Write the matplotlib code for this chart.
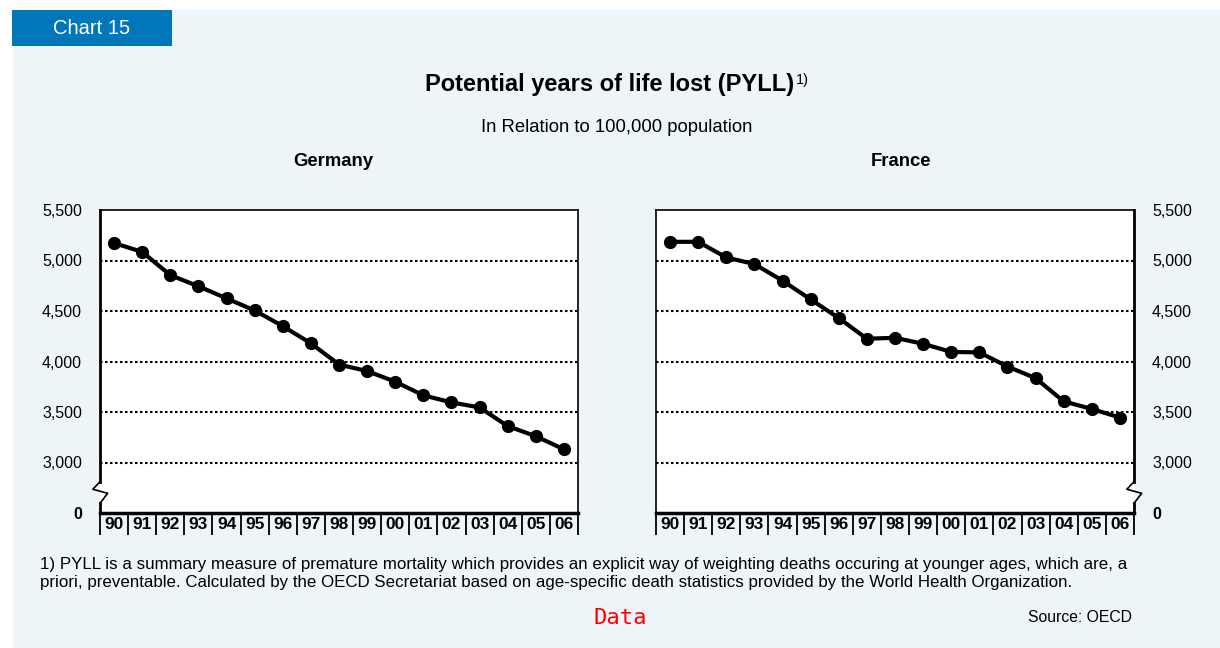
import numpy as np
import matplotlib
matplotlib.use("Agg")
import matplotlib.pyplot as plt
import matplotlib.transforms as mtrans
from matplotlib.patches import Rectangle

plt.rcParams['font.family'] = ['Liberation Sans', 'DejaVu Sans']

# data
years = ['90', '91', '92', '93', '94', '95', '96', '97', '98', '99',
         '00', '01', '02', '03', '04', '05', '06']
germany = [5173, 5085, 4855, 4745, 4625, 4505, 4350, 4180, 3970, 3905,
           3800, 3665, 3595, 3545, 3360, 3260, 3130]
france = [5185, 5185, 5030, 4965, 4800, 4615, 4430, 4225, 4235, 4175,
          4095, 4090, 3950, 3835, 3605, 3530, 3445]
ytick_vals = [3000, 3500, 4000, 4500, 5000, 5500]
ytick_labels = ['3,000', '3,500', '4,000', '4,500', '5,000', '5,500']

W, H = 1220, 648
fig = plt.figure(figsize=(W / 100, H / 100), dpi=100)
fig.patch.set_facecolor('white')

# light panel + header box
fig.patches.append(Rectangle((13 / W, 0), 1 - 13 / W, 1 - 10 / H, transform=fig.transFigure,
                             facecolor='#edf5f9', edgecolor='none', zorder=-2))
fig.patches.append(Rectangle((12 / W, 1 - 46 / H), 160 / W, 36 / H, transform=fig.transFigure,
                             facecolor='#0077bb', edgecolor='none', zorder=-1))
fig.text(92 / W, 1 - 29 / H, 'Chart 15', color='white', fontsize=14.5, ha='center', va='center')

fig.text(610 / W, 1 - 85 / H, 'Potential years of life lost (PYLL)', fontsize=17,
         fontweight='bold', ha='center', va='center')
fig.text(796 / W, 1 - 80 / H, '1)', fontsize=10.5, ha='left', va='center')
fig.text(617 / W, 1 - 127 / H, 'In Relation to 100,000 population', fontsize=13.3,
         ha='center', va='center')


def draw_panel(left_px, values, name, name_x, side):
    ax = fig.add_axes([left_px / W, 1 - 513 / H, 478 / W, 303 / H])
    ax.set_facecolor('white')
    x = np.arange(len(years))
    ax.plot(x, values, color='black', lw=3, marker='o', ms=8.5, zorder=3, clip_on=False)
    ax.set_xlim(-0.5, len(years) - 0.5)
    ax.set_ylim(2500, 5500)
    for v in ytick_vals[:-1]:
        ax.axhline(v, color='black', lw=1.5, ls=(0, (1.2, 1.2)), zorder=1)

    # year cells below the axis
    ax.set_xticks(np.arange(-0.5, len(years), 1))
    ax.set_xticklabels([])
    ax.tick_params(axis='x', which='major', direction='out', length=16, width=1.3, color='black')
    ax.set_xticks(x, minor=True)
    ax.set_xticklabels(years, minor=True, fontweight='bold', fontsize=12.5)
    ax.tick_params(axis='x', which='minor', length=0, pad=3)

    ax.set_yticks([2500] + ytick_vals)
    ax.set_yticklabels(['0'] + ytick_labels, fontsize=11.5)
    if side == 'right':
        ax.yaxis.tick_right()
    ax.tick_params(axis='y', length=0, pad=13)
    for t in ax.yaxis.get_major_ticks()[:1]:
        t.label1.set_fontweight('bold')
        t.label2.set_fontweight('bold')

    for s in ['top', 'left', 'right']:
        ax.spines[s].set_linewidth(1.2)
    ax.spines['bottom'].set_linewidth(2.5)

    # axis break on the value axis
    sx = 0.0 if side == 'left' else 1.0
    ax.spines[side].set_visible(False)
    tr = mtrans.blended_transform_factory(ax.transAxes, ax.transData)
    ax.plot([sx, sx], [5500, 2810], color='black', lw=2, transform=tr, clip_on=False)
    ax.plot([sx, sx], [2596, 2500], color='black', lw=2, transform=tr, clip_on=False)
    ax.plot([sx, sx - 0.015, sx + 0.016, sx], [2810, 2735, 2695, 2596], color='black', lw=1.2,
            transform=tr, clip_on=False)

    fig.text(name_x / W, 1 - 161 / H, name, fontsize=13.3, fontweight='bold',
             ha='center', va='center')
    return ax


draw_panel(100, germany, 'Germany', 333, 'left')
draw_panel(656, france, 'France', 901, 'right')

fig.text(40 / W, 1 - 565 / H,
         '1) PYLL is a summary measure of premature mortality which provides an explicit way of '
         'weighting deaths occuring at younger ages, which are, a', fontsize=12.2, va='center')
fig.text(40 / W, 1 - 582 / H,
         'priori, preventable. Calculated by the OECD Secretariat based on age-specific death '
         'statistics provided by the World Health Organization.', fontsize=12.2, va='center')
fig.text(620 / W, 1 - 618 / H, 'Data', color='red', fontsize=16, family='DejaVu Sans Mono',
         ha='center', va='center')
fig.text(1132 / W, 1 - 618 / H, 'Source: OECD', fontsize=11.3, ha='right', va='center')

fig.savefig('out.png', dpi=100, facecolor=fig.get_facecolor())
